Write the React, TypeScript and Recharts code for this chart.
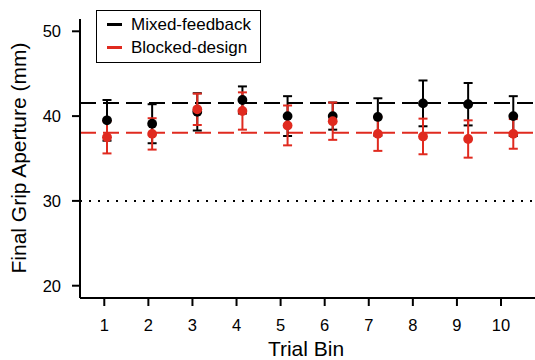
import React from 'react';
import {
  ComposedChart,
  Scatter,
  XAxis,
  YAxis,
  ErrorBar,
  ReferenceLine,
} from 'recharts';

const bins = [1, 2, 3, 4, 5, 6, 7, 8, 9, 10];
const mixedMean = [39.5, 39.1, 40.5, 41.9, 40.0, 40.0, 39.9, 41.5, 41.4, 40.0];
const mixedErr = [2.4, 2.3, 2.2, 1.6, 2.35, 1.6, 2.2, 2.7, 2.5, 2.35];
const blockedMean = [37.5, 37.9, 40.8, 40.6, 38.9, 39.4, 37.9, 37.6, 37.3, 37.9];
const blockedErr = [1.9, 1.85, 1.85, 2.2, 2.35, 2.2, 2.0, 2.1, 2.2, 1.75];

const mixedOverall = 41.55;
const blockedOverall = 38.05;
const floorLine = 30;

const xTicks = [1, 2, 3, 4, 5, 6, 7, 8, 9, 10];
const yTicks = [20, 30, 40, 50];

const BLACK = '#000000';
const RED = '#e02a1f';
const FONT = '"Liberation Sans", Arial, Helvetica, sans-serif';

const mixedData = bins.map((b, i) => ({ bin: b, y: mixedMean[i], err: mixedErr[i] }));
const blockedData = bins.map((b, i) => ({ bin: b, y: blockedMean[i], err: blockedErr[i] }));

const dot = (color: string) => (props: any) =>
  <circle cx={props.cx} cy={props.cy} r={4.9} fill={color} />;

const legendItems = [
  { name: 'Mixed-feedback', color: BLACK },
  { name: 'Blocked-design', color: RED },
];

// legend drawn as a plain box over the plot
const LegendBox = () => (
  <div
    style={{
      position: 'absolute',
      left: 96,
      top: 10,
      border: '1px solid #000',
      width: 165,
      height: 53,
      boxSizing: 'border-box',
      padding: '2px 0 0 10px',
      background: '#fff',
    }}
  >
    {legendItems.map((it) => (
      <div key={it.name} style={{ display: 'flex', alignItems: 'center', height: 23 }}>
        <div style={{ width: 15, height: 3, background: it.color, marginRight: 9 }} />
        <span style={{ fontSize: 17, fontFamily: FONT, color: '#000', lineHeight: '23px' }}>
          {it.name}
        </span>
      </div>
    ))}
  </div>
);

export default function App() {
  return (
    <div style={{ position: 'absolute', left: 0, top: 0, width: 535, height: 360, background: '#fff' }}>
      <ComposedChart
        width={535}
        height={360}
        margin={{ top: 19, right: 0, bottom: 0, left: 0 }}
        style={{ fontFamily: FONT }}
      >
        <XAxis
          type="number"
          dataKey="bin"
          domain={[0.449, 10.771]}
          ticks={xTicks}
          allowDataOverflow
          height={62}
          tickSize={8}
          tickMargin={13}
          tick={{ fill: '#000', fontSize: 16.5 }}
          axisLine={{ stroke: '#000', strokeWidth: 2 }}
          tickLine={{ stroke: '#000', strokeWidth: 2 }}
          label={{
            content: () => (
              <text x={306} y={356} textAnchor="middle" fontSize={21} fill="#000">
                Trial Bin
              </text>
            ),
          }}
        />
        <XAxis
          xAxisId="pts"
          type="number"
          dataKey="bin"
          domain={[0.402, 10.481]}
          allowDataOverflow
          hide
        />
        <YAxis
          type="number"
          domain={[18.55, 51.45]}
          ticks={yTicks}
          allowDataOverflow
          width={80}
          tickSize={8}
          tickMargin={11}
          tick={{ fill: '#000', fontSize: 16.5 }}
          axisLine={{ stroke: '#000', strokeWidth: 2 }}
          tickLine={{ stroke: '#000', strokeWidth: 2 }}
          label={{
            content: () => (
              <text
                x={26}
                y={158}
                textAnchor="middle"
                fontSize={21}
                fill="#000"
                transform="rotate(-90, 26, 158)"
              >
                Final Grip Aperture (mm)
              </text>
            ),
          }}
        />
        <ReferenceLine y={floorLine} stroke={BLACK} strokeWidth={2} strokeDasharray="2 7" />
        <ReferenceLine y={mixedOverall} stroke={BLACK} strokeWidth={2} strokeDasharray="16 7" />
        <ReferenceLine y={blockedOverall} stroke={RED} strokeWidth={2} strokeDasharray="16 7" />
        <Scatter
          name="Mixed-feedback"
          data={mixedData}
          dataKey="y"
          xAxisId="pts"
          fill={BLACK}
          shape={dot(BLACK)}
          isAnimationActive={false}
        >
          <ErrorBar dataKey="err" direction="y" width={4.5} strokeWidth={2} stroke={BLACK} />
        </Scatter>
        <Scatter
          name="Blocked-design"
          data={blockedData}
          dataKey="y"
          xAxisId="pts"
          fill={RED}
          shape={dot(RED)}
          isAnimationActive={false}
        >
          <ErrorBar dataKey="err" direction="y" width={4.5} strokeWidth={2} stroke={RED} />
        </Scatter>
      </ComposedChart>
      <LegendBox />
    </div>
  );
}
